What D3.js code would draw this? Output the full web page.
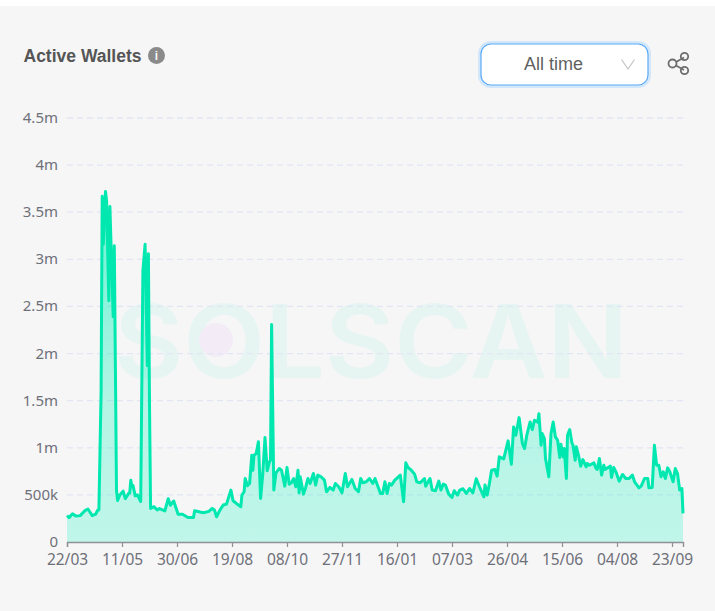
<!DOCTYPE html>
<html>
<head>
<meta charset="utf-8">
<script src="https://cdn.jsdelivr.net/npm/d3@7"></script>
<style>
  html, body { margin: 0; padding: 0; background: #fff; }
  svg { display: block; font-family: "Liberation Sans", Arial, sans-serif; }
</style>
</head>
<body>
<svg id="chart" width="715" height="611"></svg>
<script>
// days since 22/03 of each point
const days = [0,2,5,8,12,16,19,23,26,28,29,31,32,33,35,36,38,39,42,43,45,46,48,51,53,56,57,58,59,60,62,64,67,69,71,73,74,75,76,79,82,84,89,92,94,97,101,105,110,
  112,115,116,121,124,129,132,134,136,139,142,145,149,151,154,158,159,161,162,164,166,168,169,170,172,174,176,178,180,182,184,185,186,188,190,193,195,198,200,202,204,206,208,210,211,212,215,217,219,221,224,226,228,231,234,236,239,242,244,247,250,253,255,259,262,265,267,269,272,275,278,280,285,287,289,291,293,
  295,298,303,306,308,310,313,316,318,321,325,326,330,332,335,338,340,342,344,347,350,352,355,357,360,363,366,369,372,375,379,380,382,384,386,389,391,393,397,401,404,406,408,411,414,416,418,421,423,425,428,429,
  431,432,434,435,438,440,442,444,446,448,449,451,452,454,455,457,459,460,462,463,465,467,469,472,473,475,479,481,482,484,486,488,489,494,495,497,499,502,505,508,511,514,516,520,522,525,528,529,532,534,536,538,540,542,544,546,548,551,553,555,557,559,560];

// active wallets per point, in thousands
const wallets = [280,260,300,275,280,330,350,280,295,340,340,1600,3670,3160,3720,3620,2560,3560,2390,3145,550,440,500,540,460,515,520,655,585,600,490,500,430,2880,3160,1870,3060,1470,355,375,340,355,330,460,390,435,295,295,260,
  261,261,332,318,311,325,357,339,268,339,392,402,551,438,409,374,498,533,674,597,621,921,762,921,939,1063,462,727,1108,755,851,868,2308,551,734,780,762,593,791,614,628,674,586,762,522,692,508,579,674,621,727,604,710,692,657,533,579,551,621,586,522,727,586,664,568,533,674,628,639,674,621,674,515,515,639,515,621,
  604,657,710,427,840,791,762,720,639,628,674,593,674,551,544,646,551,614,604,508,473,544,498,551,565,515,568,522,671,586,480,604,498,621,762,770,699,904,882,1073,826,1221,1133,1320,1045,992,1133,1274,1193,1292,1270,1362,
  1027,1151,1098,886,692,1151,1274,1115,1080,897,1038,904,992,674,1133,1193,1052,1027,868,1010,921,805,875,798,833,815,840,780,770,886,710,815,770,805,685,791,745,646,717,674,674,710,639,575,593,674,674,575,579,1027,815,815,692,745,674,787,745,639,780,727,551,568,304];

const xTickLabels = ["22/03","11/05","30/06","19/08","08/10","27/11","16/01","07/03","26/04","15/06","04/08","23/09"];
const xTickDays = [0,50,100,150,200,250,300,350,400,450,500,550];
const yTickValues = [0,500,1000,1500,2000,2500,3000,3500,4000,4500];
const yTickLabels = ["0","500k","1m","1.5m","2m","2.5m","3m","3.5m","4m","4.5m"];

const svg = d3.select("#chart");
const defs = svg.append("defs");

const plotLeft = 67, plotRight = 683, plotTop = 118, plotBottom = 542;

const x = d3.scaleLinear().domain([0, 560]).range([plotLeft, plotRight]);
const y = d3.scaleLinear().domain([0, 4500]).range([plotBottom, plotTop]);

// card
svg.append("rect").attr("x", -14).attr("y", 6).attr("width", 743).attr("height", 640)
  .attr("rx", 14).attr("fill", "#f6f6f6");

// title row
svg.append("text").attr("x", 23.5).attr("y", 61.5)
  .attr("font-size", 17.5).attr("font-weight", 700).attr("fill", "#555").text("Active Wallets");
svg.append("circle").attr("cx", 156.5).attr("cy", 55.5).attr("r", 8.5).attr("fill", "#8a8a8a");
svg.append("text").attr("x", 156.5).attr("y", 60).attr("text-anchor", "middle")
  .attr("font-size", 12).attr("font-weight", 700).attr("fill", "#f6f6f6").text("i");

// dropdown
svg.append("rect").attr("x", 479.5).attr("y", 42.5).attr("width", 170).attr("height", 44)
  .attr("rx", 11).attr("fill", "none").attr("stroke", "#d3e7fb").attr("stroke-width", 3);
svg.append("rect").attr("x", 481).attr("y", 44).attr("width", 167).attr("height", 41)
  .attr("rx", 10).attr("fill", "#fff").attr("stroke", "#5aa9f5").attr("stroke-width", 1.2);
svg.append("text").attr("x", 553.5).attr("y", 69.5).attr("text-anchor", "middle")
  .attr("font-size", 18).attr("fill", "#5f5f5f").text("All time");
svg.append("path").attr("d", "M621.5 59.5 L628 69 L634.5 59.5").attr("fill", "none")
  .attr("stroke", "#c4c4c4").attr("stroke-width", 1.2);

// share icon
const share = svg.append("g").attr("fill", "none").attr("stroke", "#6e6e6e").attr("stroke-width", 1.8);
share.append("path").attr("d", "M676 62 L684 57.5 M676 65.5 L684 70");
share.append("circle").attr("cx", 672.5).attr("cy", 63.5).attr("r", 4);
share.append("circle").attr("cx", 684.5).attr("cy", 56.5).attr("r", 3.7);
share.append("circle").attr("cx", 684.5).attr("cy", 70.5).attr("r", 3.7);

// watermark
svg.append("text").attr("x", 371).attr("y", 378).attr("text-anchor", "middle")
  .attr("font-family", "Inter, sans-serif").attr("font-size", 102).attr("font-weight", 600)
  .attr("textLength", 514).attr("lengthAdjust", "spacingAndGlyphs")
  .attr("fill", "#e6f5f2").text("SOLSCAN");
svg.append("circle").attr("cx", 216).attr("cy", 340).attr("r", 17).attr("fill", "#f3ecf7");

// y grid and labels
svg.append("g").selectAll("line").data(yTickValues.slice(1)).join("line")
  .attr("x1", plotLeft).attr("x2", plotRight)
  .attr("y1", d => y(d)).attr("y2", d => y(d))
  .attr("stroke", "#e2e5f3").attr("stroke-width", 1.3).attr("stroke-dasharray", "6 4");

svg.append("g").selectAll("text").data(yTickValues).join("text")
  .attr("x", 58).attr("y", d => y(d) + 5)
  .attr("text-anchor", "end").attr("font-family", "Noto Sans, sans-serif")
  .attr("font-size", 15).attr("fill", "#6e7079")
  .text((d, i) => yTickLabels[i]);

// area + line
const gradient = defs.append("linearGradient").attr("id", "areaFill")
  .attr("x1", 0).attr("y1", 0).attr("x2", 0).attr("y2", 1);
gradient.append("stop").attr("offset", 0).attr("stop-color", "#00f0b8").attr("stop-opacity", 0.6);
gradient.append("stop").attr("offset", 0.6).attr("stop-color", "#00f0b8").attr("stop-opacity", 0.27);
gradient.append("stop").attr("offset", 1).attr("stop-color", "#00f5c0").attr("stop-opacity", 0.22);

const points = days.map((d, i) => [d, wallets[i]]);

svg.append("path").datum(points)
  .attr("fill", "url(#areaFill)")
  .attr("d", d3.area().x(d => x(d[0])).y0(plotBottom).y1(d => y(d[1])));

svg.append("path").datum(points)
  .attr("fill", "none").attr("stroke", "#00e8af").attr("stroke-width", 3)
  .attr("stroke-linejoin", "round")
  .attr("d", d3.line().x(d => x(d[0])).y(d => y(d[1])));

// x axis
const xAxis = svg.append("g").attr("transform", `translate(0,${plotBottom})`)
  .call(d3.axisBottom(x).tickValues(xTickDays).tickSizeOuter(0).tickSize(5)
    .tickFormat((d, i) => xTickLabels[i]));
xAxis.select(".domain").attr("stroke", "#8f9196").attr("stroke-width", 1.4);
xAxis.selectAll(".tick line").attr("stroke", "#8f9196").attr("stroke-width", 1.2);
xAxis.selectAll(".tick text").attr("font-size", 15.5).attr("fill", "#6e7079")
  .attr("font-family", "Noto Sans, sans-serif").attr("dy", "0.75em").attr("y", 11);
</script>
</body>
</html>
